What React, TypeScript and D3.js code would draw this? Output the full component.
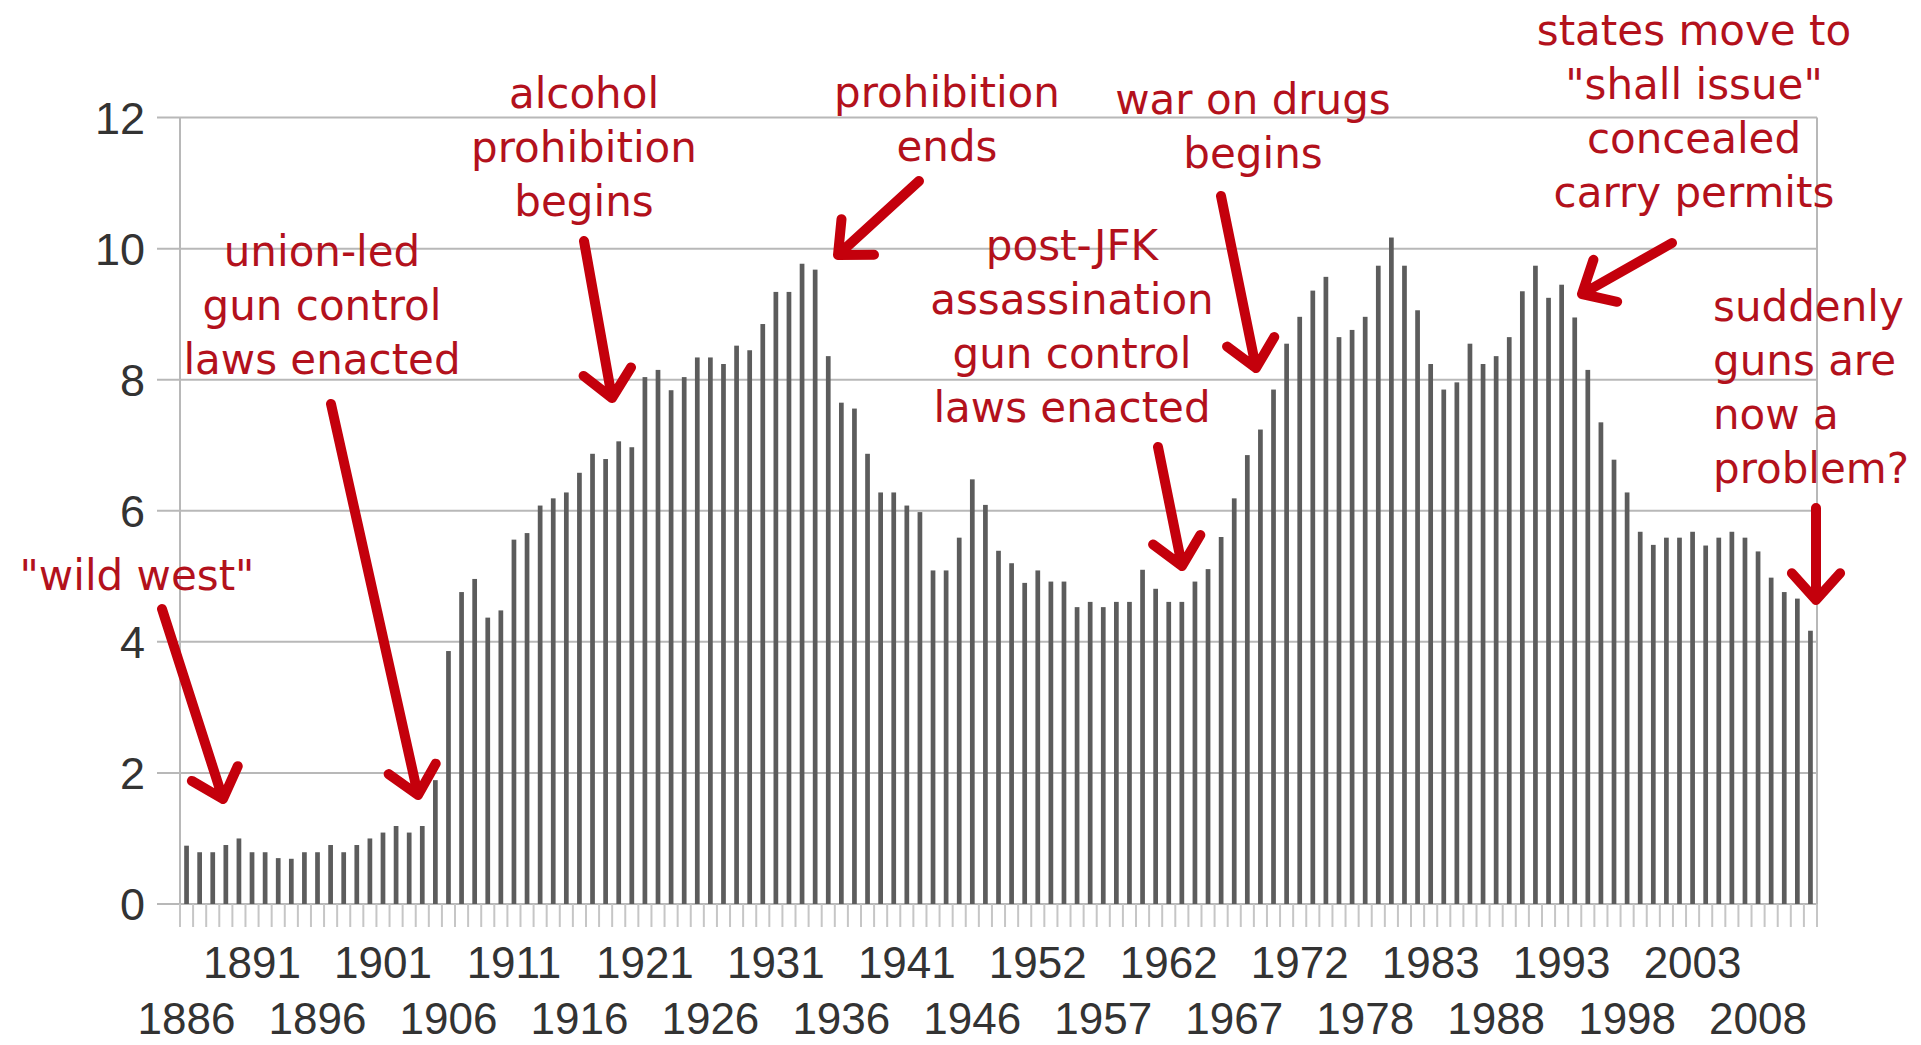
import React from 'react';
import * as d3 from 'd3';

// two years are missing in the source series (one after 1946, one after 1972)
const years = d3.range(1886, 2013).filter(y => y !== 1950 && y !== 1975);

const rates = [
  0.89, 0.79, 0.79, 0.9, 1.0, 0.79, 0.79, 0.7, 0.69, 0.79,
  0.79, 0.9, 0.79, 0.9, 1.0, 1.09, 1.19, 1.09, 1.19, 1.89,
  3.86, 4.76, 4.96, 4.37, 4.48, 5.56, 5.66, 6.08, 6.19, 6.28,
  6.58, 6.87, 6.79, 7.06, 6.97, 8.04, 8.15, 7.84, 8.04, 8.34,
  8.34, 8.24, 8.52, 8.45, 8.85, 9.34, 9.34, 9.77, 9.68, 8.36,
  7.65, 7.56, 6.87, 6.28, 6.28, 6.08, 5.98, 5.09, 5.09, 5.59,
  6.48, 6.09, 5.39, 5.2, 4.9, 5.09, 4.92, 4.92, 4.53, 4.61,
  4.53, 4.61, 4.61, 5.1, 4.81, 4.61, 4.61, 4.92, 5.11, 5.6,
  6.19, 6.85, 7.24, 7.85, 8.55, 8.96, 9.36, 9.57, 8.65, 8.76,
  8.96, 9.74, 10.17, 9.74, 9.06, 8.24, 7.85, 7.96, 8.55, 8.24,
  8.36, 8.65, 9.35, 9.74, 9.25, 9.45, 8.95, 8.15, 7.35, 6.78,
  6.28, 5.68, 5.48, 5.59, 5.59, 5.68, 5.47, 5.59, 5.68, 5.59,
  5.38, 4.98, 4.76, 4.66, 4.17,
];

const yTicks = [0, 2, 4, 6, 8, 10, 12];

// hand-drawn style notes: text lines, anchor/baseline, arrow from -> to
const notes = [
  { lines: ['"wild west"'], x: 137, y: 590, anchor: 'middle', from: [162, 609], to: [223, 799] },
  { lines: ['union-led', 'gun control', 'laws enacted'], x: 322, y: 266, anchor: 'middle', from: [331, 404], to: [418, 795] },
  { lines: ['alcohol', 'prohibition', 'begins'], x: 584, y: 108, anchor: 'middle', from: [584, 241], to: [612, 398] },
  { lines: ['prohibition', 'ends'], x: 947, y: 107, anchor: 'middle', from: [919, 181], to: [838, 255] },
  { lines: ['war on drugs', 'begins'], x: 1253, y: 114, anchor: 'middle', from: [1221, 196], to: [1256, 368] },
  { lines: ['post-JFK', 'assassination', 'gun control', 'laws enacted'], x: 1072, y: 260, anchor: 'middle', from: [1158, 447], to: [1182, 566] },
  { lines: ['states move to', '"shall issue"', 'concealed', 'carry permits'], x: 1694, y: 45, anchor: 'middle', from: [1672, 243], to: [1582, 294] },
  { lines: ['suddenly', 'guns are', 'now a', 'problem?'], x: 1713, y: 321, anchor: 'start', from: [1816, 508], to: [1816, 600] },
];

const W = 1921;
const H = 1045;
const left = 180;
const right = 1817;
const top = 117.6;
const bottom = 904;

function arrowPath(from: number[], to: number[]) {
  const ang = Math.atan2(from[1] - to[1], from[0] - to[0]);
  const arm = 36;
  const spread = (42 * Math.PI) / 180;
  const a1 = [to[0] + arm * Math.cos(ang + spread), to[1] + arm * Math.sin(ang + spread)];
  const a2 = [to[0] + arm * Math.cos(ang - spread), to[1] + arm * Math.sin(ang - spread)];
  return `M${from[0]},${from[1]}L${to[0]},${to[1]}M${a1[0]},${a1[1]}L${to[0]},${to[1]}L${a2[0]},${a2[1]}`;
}

export default function App() {
  const x = d3.scaleBand<number>().domain(years).range([left, right]).paddingInner(0.64).paddingOuter(0.32);
  const step = x.step();
  const y = d3.scaleLinear().domain([0, 12]).range([bottom, top]);
  const labelFont = '"Liberation Sans", Arial, sans-serif';

  return (
    <svg width={W} height={H} style={{ position: 'fixed', left: 0, top: 0, background: '#fff' }}>
      <rect width={W} height={H} fill="#fff" />

      {/* gridlines and y ticks */}
      {yTicks.map(t => (
        <line key={'g' + t} x1={157} x2={right} y1={y(t)} y2={y(t)} stroke="#b8b8b8" strokeWidth={2} />
      ))}
      <line x1={left} x2={left} y1={top} y2={bottom} stroke="#b8b8b8" strokeWidth={2} />
      <line x1={right} x2={right} y1={top} y2={bottom} stroke="#b8b8b8" strokeWidth={2} />

      {/* x ticks at category boundaries */}
      {d3.range(years.length + 1).map(i => (
        <line key={'t' + i} x1={left + i * step} x2={left + i * step} y1={bottom} y2={927} stroke="#c6c6c6" strokeWidth={2} />
      ))}

      {/* bars */}
      {years.map((yr, i) => (
        <rect key={yr} x={x(yr)} y={y(rates[i])} width={x.bandwidth()} height={bottom - y(rates[i])} fill="#5c5c5c" />
      ))}

      {/* y labels */}
      {yTicks.map(t => (
        <text key={'yl' + t} x={145} y={y(t) + 16} textAnchor="end" fontFamily={labelFont} fontSize={45} fill="#333">
          {t}
        </text>
      ))}

      {/* x labels, every 5th category on alternating rows */}
      {years.map((yr, i) =>
        i % 5 === 0 ? (
          <text
            key={'xl' + yr}
            x={(x(yr) as number) + x.bandwidth() / 2}
            y={(i / 5) % 2 === 0 ? 1034 : 978}
            textAnchor="middle"
            fontFamily={labelFont}
            fontSize={44}
            fill="#333"
          >
            {yr}
          </text>
        ) : null
      )}

      {/* annotations */}
      {notes.map((n, k) => (
        <g key={'n' + k}>
          {n.lines.map((s, j) => (
            <text key={j} x={n.x} y={n.y + j * 54} textAnchor={n.anchor} fontFamily='"DejaVu Sans", sans-serif' fontSize={42} fill="#b3111c">
              {s}
            </text>
          ))}
          <path d={arrowPath(n.from, n.to)} fill="none" stroke="#c4000c" strokeWidth={10} strokeLinecap="round" strokeLinejoin="round" />
        </g>
      ))}
    </svg>
  );
}
